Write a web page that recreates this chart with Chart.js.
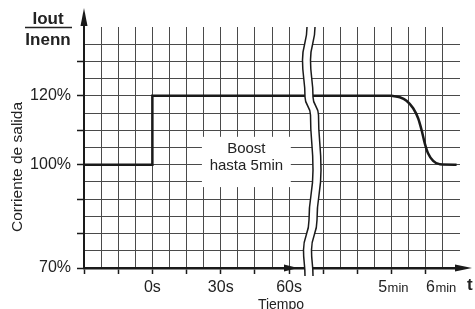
<!DOCTYPE html>
<html><head><meta charset="utf-8">
<script src="https://cdn.jsdelivr.net/npm/chart.js@4/dist/chart.umd.min.js"></script>
<style>html,body{margin:0;padding:0;background:#fff}#wrap{width:475px;height:309px;position:relative}</style>
</head><body><div id="wrap"><canvas id="c" width="475" height="309"></canvas></div>
<script>
// ---- data ----
const xTickValues = [4, 8, 12, 18, 21];
const xTickLabels = ['0s', '30s', '60s', '5min', '6min'];
const yTickValues = [120, 100, 70];
const yTickLabels = ['120%', '100%', '70%'];
const stepX = [0, 4, 4, 18];
const stepY = [100, 100, 120, 120];
const decayX = [18, 18.48, 18.87, 19.26, 19.55, 19.75, 19.94, 20.13, 20.43, 20.82, 21.8];
const decayY = [120, 119.6, 118.6, 116.4, 113.5, 110.1, 106.2, 103.3, 101.1, 100.1, 100];

const FONT = "'Liberation Sans', Arial, sans-serif";
const GRID = '#4a4a4a';
const INK = '#1a1a1a';
const TXT = '#222';

const zip = (xs, ys) => xs.map((x, i) => ({x, y: ys[i]}));
const isMin = (v) => { const i = xTickValues.indexOf(v); return i >= 0 && /min$/.test(xTickLabels[i]); };

const deco = {
  id: 'deco',
  afterDatasetsDraw(chart) {
    const {ctx, chartArea: a, scales: {x, y}} = chart;
    ctx.save();
    // white box for the "Boost" note
    const bx1 = x.getPixelForValue(6.9), bx2 = x.getPixelForValue(12.1);
    const by1 = y.getPixelForValue(108.1), by2 = y.getPixelForValue(93.5);
    ctx.fillStyle = '#fff';
    ctx.fillRect(bx1, by1, bx2 - bx1, by2 - by1);
    ctx.fillStyle = TXT;
    ctx.font = '15px ' + FONT;
    ctx.textAlign = 'center';
    ctx.textBaseline = 'alphabetic';
    const bc = (bx1 + bx2) / 2;
    ctx.fillText('Boost', bc, by1 + 16);
    ctx.fillText('hasta 5min', bc, by1 + 33);

    // axis break (wavy double line)
    const pts = [[a.top, 307], [a.top + 33, 302.5], [a.top + 70, 305], [a.top + 88, 310.5], [a.top + 143, 313], [a.top + 193, 309], [a.top + 223, 303.5], [a.bottom + 8, 305]];
    const W = 8;
    const trace = (list, dx, first) => {
      if (first) ctx.moveTo(list[0][1] + dx, list[0][0]); else ctx.lineTo(list[0][1] + dx, list[0][0]);
      for (let i = 1; i < list.length; i++) {
        const p0 = list[i - 1], p1 = list[i];
        const my = (p0[0] + p1[0]) / 2;
        ctx.bezierCurveTo(p0[1] + dx, my, p1[1] + dx, my, p1[1] + dx, p1[0]);
      }
    };
    ctx.beginPath();
    trace(pts, 0, true);
    trace(pts.slice().reverse(), W, false);
    ctx.closePath();
    ctx.fillStyle = '#fff';
    ctx.fill();
    ctx.strokeStyle = INK;
    ctx.lineWidth = 1.5;
    ctx.beginPath(); trace(pts, 0, true); ctx.stroke();
    ctx.beginPath(); trace(pts, W, true); ctx.stroke();

    // x axis extension + arrows
    ctx.fillStyle = INK;
    ctx.strokeStyle = INK;
    ctx.lineWidth = 2.5;
    ctx.beginPath(); ctx.moveTo(a.right - 2, a.bottom); ctx.lineTo(458, a.bottom); ctx.stroke();
    ctx.beginPath(); ctx.moveTo(472, a.bottom); ctx.lineTo(455, a.bottom - 3.5); ctx.lineTo(455, a.bottom + 3.5); ctx.closePath(); ctx.fill();
    ctx.beginPath(); ctx.moveTo(298, a.bottom); ctx.lineTo(284, a.bottom - 3.5); ctx.lineTo(284, a.bottom + 3.5); ctx.closePath(); ctx.fill();
    // y axis extension + arrow
    const ax = a.left;
    ctx.lineWidth = 2;
    ctx.beginPath(); ctx.moveTo(ax, a.top + 1); ctx.lineTo(ax, 22); ctx.stroke();
    ctx.beginPath(); ctx.moveTo(ax, 8); ctx.lineTo(ax - 3.5, 26); ctx.lineTo(ax + 3.5, 26); ctx.closePath(); ctx.fill();

    // "5min" / "6min" tick labels with a small "min"
    ctx.fillStyle = TXT;
    ctx.textAlign = 'left';
    x.ticks.forEach((t) => {
      if (!isMin(t.value)) return;
      const lab = xTickLabels[xTickValues.indexOf(t.value)];
      const num = lab.replace('min', '');
      ctx.font = '16px ' + FONT;
      const w1 = ctx.measureText(num).width;
      ctx.font = '13px ' + FONT;
      const w2 = ctx.measureText('min').width;
      const cx = x.getPixelForValue(t.value) + (t.value === 21 ? -2 : 1.5);
      const x0 = cx - (w1 + w2) / 2;
      ctx.font = '16px ' + FONT;
      ctx.fillText(num, x0, 291.5);
      ctx.font = '13px ' + FONT;
      ctx.fillText('min', x0 + w1 + 0.5, 291.5);
    });

    // Iout / Inenn
    ctx.fillStyle = TXT;
    ctx.font = 'bold 17px ' + FONT;
    ctx.textAlign = 'center';
    ctx.fillText('Iout', 48, 24);
    ctx.fillText('Inenn', 48, 45);
    ctx.lineWidth = 1.5;
    ctx.strokeStyle = TXT;
    ctx.beginPath(); ctx.moveTo(25, 27.5); ctx.lineTo(72, 27.5); ctx.stroke();
    // t
    ctx.textAlign = 'left';
    ctx.fillText('t', 467, 290);
    // x title
    ctx.font = '14px ' + FONT;
    ctx.textAlign = 'center';
    ctx.fillText('Tiempo', 281, 308.5);
    // y title
    ctx.font = '15.5px ' + FONT;
    ctx.translate(22, 167);
    ctx.rotate(-Math.PI / 2);
    ctx.fillText('Corriente de salida', 0, 0);
    ctx.restore();
  }
};

new Chart(document.getElementById('c'), {
  type: 'line',
  data: {
    datasets: [
      { label: 'step', data: zip(stepX, stepY), borderColor: INK, borderWidth: 2.5, pointRadius: 0, tension: 0, fill: false },
      { label: 'decay', data: zip(decayX, decayY), borderColor: INK, borderWidth: 2.5, pointRadius: 0, cubicInterpolationMode: 'monotone', fill: false }
    ]
  },
  options: {
    responsive: false,
    animation: false,
    events: [],
    layout: { padding: { top: 27, right: 15, left: 0, bottom: 0 } },
    plugins: { legend: { display: false }, tooltip: { enabled: false } },
    scales: {
      x: {
        type: 'linear', min: 0, max: 22,
        afterBuildTicks: (s) => { s.ticks = Array.from({length: 23}, (_, i) => ({value: i})); },
        afterFit: (s) => { s.height = 41; },
        ticks: {
          autoSkip: false, maxRotation: 0, padding: 4,
          color: (c) => isMin(c.tick.value) ? 'rgba(0,0,0,0)' : TXT,
          font: { family: FONT, size: 16 },
          callback: (v) => { const i = xTickValues.indexOf(v); return i >= 0 ? xTickLabels[i] : ''; }
        },
        grid: {
          color: (c) => { const v = c.tick && c.tick.value; return (v === 0 || v === 13 || v === 22) ? 'rgba(0,0,0,0)' : GRID; },
          tickColor: (c) => { const v = c.tick && c.tick.value; return (v % 2 === 0 && v <= 20) ? INK : 'rgba(0,0,0,0)'; },
          lineWidth: 1, tickLength: 6, tickWidth: 1.5
        },
        border: { display: true, color: INK, width: 2.5 }
      },
      y: {
        type: 'linear', min: 70, max: 140,
        afterBuildTicks: (s) => { s.ticks = Array.from({length: 15}, (_, i) => ({value: 70 + i * 5})); },
        afterFit: (s) => { s.width = 84; },
        ticks: {
          autoSkip: false, padding: 6,
          color: TXT, font: { family: FONT, size: 16 },
          callback: (v) => { const i = yTickValues.indexOf(v); return i >= 0 ? yTickLabels[i] : ''; }
        },
        grid: {
          color: (c) => { const v = c.tick && c.tick.value; return (v === 70 || v === 140) ? 'rgba(0,0,0,0)' : GRID; },
          tickColor: (c) => { const v = c.tick && c.tick.value; return (v % 10 === 0 && v < 140) ? INK : 'rgba(0,0,0,0)'; },
          lineWidth: 1, tickLength: 7, tickWidth: 1.5
        },
        border: { display: true, color: INK, width: 2 }
      }
    }
  },
  plugins: [deco]
});
</script>
</body></html>
